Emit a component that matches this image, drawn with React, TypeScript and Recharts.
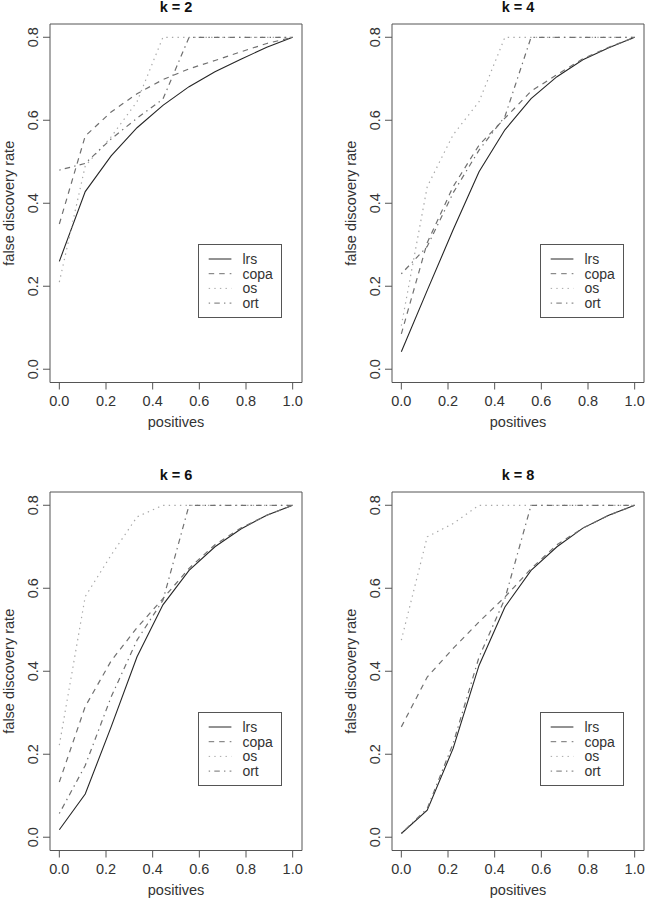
import { LineChart, Line, XAxis, YAxis, ReferenceArea, Legend } from "recharts";

// positives (x) shared by every panel
const POSITIVES = [0, 0.111, 0.222, 0.333, 0.444, 0.556, 0.667, 0.778, 0.889, 1];
const X_TICKS = [0, 0.2, 0.4, 0.6, 0.8, 1];
const Y_TICKS = [0, 0.2, 0.4, 0.6, 0.8];

// k = 2
const LRS_K2 = [0.26, 0.428, 0.514, 0.582, 0.636, 0.681, 0.717, 0.747, 0.776, 0.8];
const COPA_K2 = [0.35, 0.562, 0.62, 0.664, 0.698, 0.724, 0.744, 0.765, 0.785, 0.8];
const OS_K2 = [0.21, 0.49, 0.56, 0.645, 0.8, 0.8, 0.8, 0.8, 0.8, 0.8];
const ORT_K2 = [0.48, 0.496, 0.555, 0.605, 0.651, 0.8, 0.8, 0.8, 0.8, 0.8];

// k = 4
const LRS_K4 = [0.042, 0.19, 0.336, 0.476, 0.577, 0.652, 0.705, 0.746, 0.775, 0.8];
const COPA_K4 = [0.085, 0.305, 0.44, 0.54, 0.605, 0.67, 0.71, 0.748, 0.776, 0.8];
const OS_K4 = [0.105, 0.44, 0.565, 0.645, 0.8, 0.8, 0.8, 0.8, 0.8, 0.8];
const ORT_K4 = [0.23, 0.296, 0.425, 0.528, 0.609, 0.8, 0.8, 0.8, 0.8, 0.8];

// k = 6
const LRS_K6 = [0.018, 0.104, 0.266, 0.435, 0.56, 0.643, 0.7, 0.743, 0.776, 0.8];
const COPA_K6 = [0.133, 0.315, 0.425, 0.505, 0.575, 0.648, 0.705, 0.745, 0.776, 0.8];
const OS_K6 = [0.222, 0.58, 0.68, 0.772, 0.8, 0.8, 0.8, 0.8, 0.8, 0.8];
const ORT_K6 = [0.057, 0.173, 0.338, 0.475, 0.571, 0.8, 0.8, 0.8, 0.8, 0.8];

// k = 8
const LRS_K8 = [0.009, 0.065, 0.214, 0.414, 0.555, 0.643, 0.7, 0.745, 0.776, 0.8];
const COPA_K8 = [0.266, 0.386, 0.455, 0.519, 0.579, 0.647, 0.705, 0.745, 0.776, 0.8];
const OS_K8 = [0.475, 0.724, 0.756, 0.8, 0.8, 0.8, 0.8, 0.8, 0.8, 0.8];
const ORT_K8 = [0.009, 0.069, 0.226, 0.434, 0.575, 0.8, 0.8, 0.8, 0.8, 0.8];

const SERIES = [
  { key: "lrs", stroke: "#262626", dash: undefined as string | undefined },
  { key: "copa", stroke: "#707070", dash: "5.5 5" },
  { key: "os", stroke: "#a8a8a8", dash: "1.4 4.2" },
  { key: "ort", stroke: "#707070", dash: "1.4 4.2 5.5 4.2" },
];

const FONT = '"Liberation Sans", Arial, Helvetica, sans-serif';
const TEXT = "#333";
const FRAME = "#555";
const H = 440;

function YTick({ x, y, payload }: any) {
  return (
    <text
      x={x}
      y={y}
      dy={-3}
      transform={`rotate(-90 ${x} ${y})`}
      textAnchor="middle"
      fontSize={14.5}
      fill={TEXT}
    >
      {Number(payload.value).toFixed(1)}
    </text>
  );
}

function YLabel({ viewBox }: any) {
  const cx = viewBox.x + 13.5;
  const cy = viewBox.y + viewBox.height / 2;
  return (
    <text x={cx} y={cy} transform={`rotate(-90 ${cx} ${cy})`} textAnchor="middle" fontSize={14.5} fill={TEXT}>
      false discovery rate
    </text>
  );
}

function XLabel({ viewBox }: any) {
  return (
    <text x={viewBox.x + viewBox.width / 2} y={viewBox.y + 44} textAnchor="middle" fontSize={14.5} fill={TEXT}>
      positives
    </text>
  );
}

function LegendBox() {
  return (
    <svg width={84} height={74} style={{ display: "block" }}>
      <rect x={0.5} y={0.5} width={83} height={73} fill="#fff" stroke={FRAME} />
      {SERIES.map((s, i) => {
        const ry = 15 + i * 14.7;
        return (
          <g key={s.key}>
            <line x1={10.7} x2={33.4} y1={ry} y2={ry} stroke={s.stroke} strokeDasharray={s.dash} />
            <text x={44.4} y={ry} dy="0.36em" fontSize={14} fill={TEXT}>
              {s.key}
            </text>
          </g>
        );
      })}
    </svg>
  );
}

interface PanelProps {
  title: string;
  lrs: number[];
  copa: number[];
  os: number[];
  ort: number[];
  left: number;
  top: number;
  width: number;
}

function Panel({ title, lrs, copa, os, ort, left, top, width }: PanelProps) {
  const data = POSITIVES.map((x, i) => ({ x, lrs: lrs[i], copa: copa[i], os: os[i], ort: ort[i] }));
  return (
    <div style={{ position: "absolute", left, top, width, height: H }}>
      <div
        style={{
          position: "absolute",
          left: 50,
          top: 0,
          width: 252,
          textAlign: "center",
          fontSize: 14.5,
          lineHeight: "14px",
          fontWeight: "bold",
          color: "#111",
          zIndex: 2,
        }}
      >
        {title}
      </div>
      <LineChart width={width} height={H} data={data} margin={{ top: 24, right: width - 302, left: 0, bottom: 7.5 }}>
        <XAxis
          dataKey="x"
          type="number"
          domain={[-0.04, 1.04]}
          ticks={X_TICKS}
          allowDataOverflow
          height={50}
          axisLine={false}
          tickLine={{ stroke: FRAME }}
          tickSize={7}
          tickMargin={6}
          tick={{ fill: TEXT, fontSize: 14.5 }}
          tickFormatter={(v: number) => v.toFixed(1)}
          label={{ content: <XLabel /> }}
        />
        <YAxis
          type="number"
          domain={[-0.032, 0.832]}
          ticks={Y_TICKS}
          allowDataOverflow
          width={50}
          axisLine={false}
          tickLine={{ stroke: FRAME }}
          tickSize={7}
          tickMargin={2}
          tick={<YTick />}
          label={{ content: <YLabel /> }}
        />
        <ReferenceArea
          x1={-0.04}
          x2={1.04}
          y1={-0.032}
          y2={0.832}
          fill="none"
          stroke={FRAME}
          strokeWidth={1}
          ifOverflow="visible"
        />
        {SERIES.map((s) => (
          <Line
            key={s.key}
            dataKey={s.key}
            type="linear"
            stroke={s.stroke}
            strokeWidth={s.key === "lrs" ? 1.1 : 1.2}
            strokeDasharray={s.dash}
            dot={false}
            activeDot={false}
            isAnimationActive={false}
          />
        ))}
        <Legend
          layout="horizontal"
          align="center"
          verticalAlign="middle"
          width={84}
          height={74}
          wrapperStyle={{ left: 198, top: 244, width: 84, height: 74 }}
          content={() => <LegendBox />}
        />
      </LineChart>
    </div>
  );
}

export default function App() {
  return (
    <div
      style={{
        position: "absolute",
        left: 0,
        top: 0,
        width: 646,
        height: 899,
        overflow: "hidden",
        background: "#fff",
        fontFamily: FONT,
      }}
    >
      <Panel title="k = 2" lrs={LRS_K2} copa={COPA_K2} os={OS_K2} ort={ORT_K2} left={0} top={0} width={323} />
      <Panel title="k = 4" lrs={LRS_K4} copa={COPA_K4} os={OS_K4} ort={ORT_K4} left={342} top={0} width={304} />
      <Panel title="k = 6" lrs={LRS_K6} copa={COPA_K6} os={OS_K6} ort={ORT_K6} left={0} top={468} width={323} />
      <Panel title="k = 8" lrs={LRS_K8} copa={COPA_K8} os={OS_K8} ort={ORT_K8} left={342} top={468} width={304} />
    </div>
  );
}
